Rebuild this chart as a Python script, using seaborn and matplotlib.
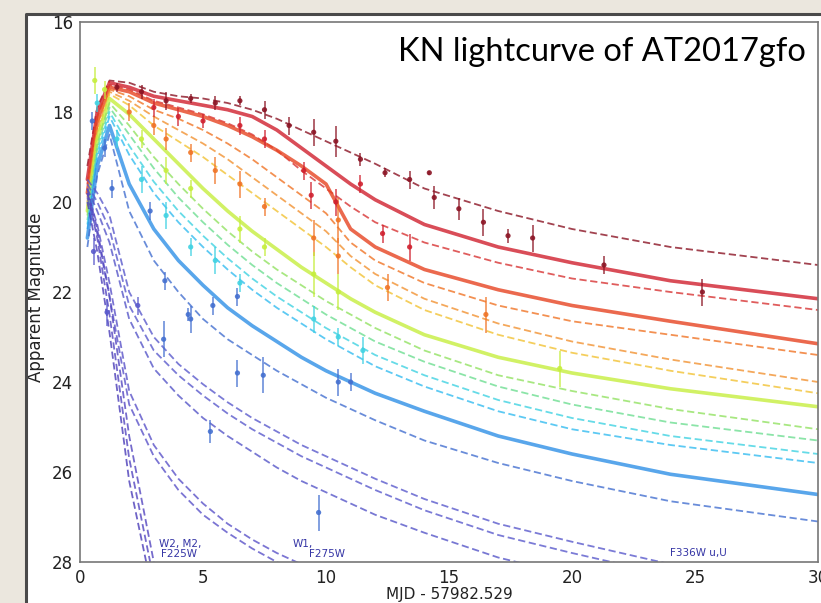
import numpy as np
import pandas as pd
import seaborn as sns
import matplotlib
matplotlib.use('Agg')
from matplotlib import pyplot as plt
from matplotlib.patches import Rectangle
from matplotlib.lines import Line2D

sns.set_style('white')

# model epochs (days since MJD 57982.529)
days = [0.3, 0.7, 1.2, 2, 3, 4, 5, 6, 7, 8, 9, 10, 11, 12, 14, 17, 20, 24, 30]

# model lightcurves, reddest band first
mag_a = [19.2, 17.9, 17.3, 17.35, 17.55, 17.65, 17.7, 17.8, 17.95, 18.15, 18.4, 18.65, 18.9, 19.15, 19.7, 20.2, 20.6, 21.0, 21.4]
mag_b = [19.5, 18.0, 17.35, 17.45, 17.65, 17.75, 17.85, 17.95, 18.1, 18.4, 18.8, 19.2, 19.6, 19.95, 20.5, 21.0, 21.35, 21.75, 22.15]
mag_c = [19.6, 18.1, 17.4, 17.5, 17.75, 17.9, 18.05, 18.25, 18.5, 18.85, 19.3, 19.7, 20.1, 20.45, 20.9, 21.35, 21.7, 22.0, 22.4]
mag_d = [19.8, 18.2, 17.45, 17.55, 17.8, 17.95, 18.1, 18.3, 18.55, 18.85, 19.2, 19.6, 20.6, 21.0, 21.5, 21.95, 22.3, 22.65, 23.15]
mag_e = [19.9, 18.3, 17.5, 17.65, 17.95, 18.15, 18.4, 18.7, 19.05, 19.45, 19.85, 20.25, 20.9, 21.3, 21.8, 22.3, 22.65, 22.95, 23.4]
mag_f = [20.0, 18.4, 17.55, 17.75, 18.1, 18.4, 18.7, 19.05, 19.45, 19.85, 20.25, 20.65, 21.2, 21.6, 22.15, 22.7, 23.1, 23.5, 24.0]
mag_g = [20.1, 18.5, 17.6, 17.85, 18.3, 18.65, 19.0, 19.4, 19.8, 20.2, 20.6, 21.0, 21.45, 21.85, 22.4, 22.95, 23.35, 23.75, 24.25]
mag_h = [20.2, 18.6, 17.7, 18.05, 18.6, 19.15, 19.7, 20.2, 20.65, 21.05, 21.45, 21.8, 22.15, 22.45, 22.95, 23.45, 23.8, 24.15, 24.55]
mag_i = [20.3, 18.7, 17.8, 18.3, 19.0, 19.6, 20.15, 20.65, 21.1, 21.5, 21.85, 22.2, 22.5, 22.8, 23.3, 23.85, 24.2, 24.6, 25.05]
mag_j = [20.4, 18.8, 17.9, 18.5, 19.25, 19.9, 20.45, 20.95, 21.4, 21.8, 22.15, 22.5, 22.8, 23.1, 23.55, 24.1, 24.5, 24.9, 25.3]
mag_k = [20.5, 18.9, 18.0, 18.75, 19.55, 20.2, 20.75, 21.25, 21.7, 22.1, 22.45, 22.8, 23.1, 23.4, 23.85, 24.4, 24.8, 25.2, 25.6]
mag_l = [20.6, 19.0, 18.1, 18.95, 19.8, 20.45, 21.0, 21.5, 21.95, 22.35, 22.7, 23.05, 23.35, 23.65, 24.1, 24.65, 25.05, 25.4, 25.8]
mag_m = [20.8, 19.2, 18.3, 19.6, 20.6, 21.3, 21.85, 22.35, 22.75, 23.1, 23.45, 23.75, 24.0, 24.25, 24.65, 25.2, 25.6, 26.05, 26.5]
mag_n = [21.0, 19.4, 18.5, 20.2, 21.3, 22.0, 22.6, 23.05, 23.4, 23.75, 24.05, 24.35, 24.6, 24.85, 25.3, 25.8, 26.2, 26.65, 27.1]
mag_o1 = [19.5, 19.8, 20.3, 22.0, 23.0, 23.6, 24.05, 24.45, 24.8, 25.1, 25.4, 25.65, 25.9, 26.15, 26.6, 27.15, 27.55, 28.05]
mag_o2 = [19.6, 20.0, 20.6, 22.3, 23.3, 23.85, 24.3, 24.7, 25.05, 25.35, 25.65, 25.9, 26.15, 26.4, 26.85, 27.4, 27.8, 28.3]
mag_o3 = [19.7, 20.2, 20.9, 22.6, 23.7, 24.3, 24.8, 25.2, 25.55, 25.9, 26.2, 26.45, 26.7, 26.95, 27.35, 27.9, 28.3]
mag_p1 = [19.8, 20.5, 21.8, 24.2, 25.4, 26.15, 26.7, 27.15, 27.5, 27.8, 28.05, 28.3]
mag_p2 = [19.9, 20.7, 22.1, 24.5, 25.65, 26.4, 26.95, 27.35, 27.7, 28.0, 28.3]
mag_q1 = [19.7, 20.6, 22.1, 25.2, 28.0]
mag_q2 = [19.8, 20.8, 22.5, 25.7, 28.4]
mag_q3 = [20.0, 21.1, 22.9, 26.2, 28.8]

models = {'a': mag_a, 'b': mag_b, 'c': mag_c, 'd': mag_d, 'e': mag_e, 'f': mag_f,
          'g': mag_g, 'h': mag_h, 'i': mag_i, 'j': mag_j, 'k': mag_k, 'l': mag_l,
          'm': mag_m, 'n': mag_n, 'o1': mag_o1, 'o2': mag_o2, 'o3': mag_o3,
          'p1': mag_p1, 'p2': mag_p2, 'q1': mag_q1, 'q2': mag_q2, 'q3': mag_q3}

colors = {'a': '#8b1424', 'b': '#d0202e', 'c': '#d83434', 'd': '#e64422', 'e': '#f07426',
          'f': '#f29232', 'g': '#f2c234', 'h': '#c6ee3e', 'i': '#92e262', 'j': '#6ede92',
          'k': '#40d2e2', 'l': '#34bcf0', 'm': '#3090e6', 'n': '#4470d0', 'o1': '#5a5acc',
          'o2': '#5a5acc', 'o3': '#5656c8', 'p1': '#5a52c8', 'p2': '#5a52c8',
          'q1': '#5446c0', 'q2': '#5446c0', 'q3': '#4a3cb8'}
solid = ['b', 'd', 'h', 'm']

# observed photometry (day, mag, err, band)
obs_day = [1.5, 2.5, 3.5, 4.5, 5.5, 6.5, 7.5, 8.5, 9.5, 10.4, 11.4, 12.4, 13.4, 14.2, 14.4, 15.4, 16.4, 17.4, 18.4, 21.3, 25.3,
           3.0, 4.0, 5.0, 6.5, 7.5, 9.1, 9.4, 10.4, 11.4, 12.3, 13.4,
           2.0, 3.0, 3.5, 4.5, 5.5, 6.5, 7.5, 9.5, 10.5, 10.5, 12.5, 16.5,
           0.6, 1.0, 2.5, 3.5, 4.5, 6.5, 7.5, 9.5, 10.5, 19.5,
           0.7, 1.5, 2.5, 3.5, 4.5, 5.5, 6.5, 9.5, 10.5, 11.5,
           0.5, 1.0, 1.3, 2.85, 3.45, 4.4, 5.4, 6.4, 3.4, 4.5, 6.4, 7.45, 9.7, 5.3, 10.5, 11.0,
           0.55, 1.1, 2.35]
obs_mag = [17.45, 17.55, 17.75, 17.7, 17.8, 17.75, 17.95, 18.3, 18.45, 18.65, 19.05, 19.35, 19.5, 19.35, 19.9, 20.15, 20.45, 20.75, 20.8, 21.4, 22.0,
           17.9, 18.1, 18.2, 18.3, 18.6, 19.3, 19.85, 20.0, 19.6, 20.7, 21.0,
           18.0, 18.3, 18.6, 18.9, 19.3, 19.6, 20.1, 20.8, 20.4, 21.2, 21.9, 22.5,
           17.3, 17.5, 18.6, 19.3, 19.7, 20.6, 21.0, 21.6, 22.0, 23.7,
           17.8, 18.6, 19.5, 20.3, 21.0, 21.3, 21.8, 22.6, 23.0, 23.3,
           18.2, 18.8, 19.7, 20.2, 21.75, 22.5, 22.3, 22.1, 23.05, 22.6, 23.8, 23.85, 26.9, 25.1, 24.0, 24.0,
           21.1, 22.45, 22.3]
obs_err = [0.1, 0.15, 0.2, 0.1, 0.15, 0.1, 0.2, 0.2, 0.3, 0.35, 0.15, 0.1, 0.2, 0.05, 0.25, 0.25, 0.3, 0.15, 0.3, 0.2, 0.3,
           0.2, 0.2, 0.15, 0.2, 0.2, 0.2, 0.3, 0.3, 0.2, 0.2, 0.3,
           0.2, 0.2, 0.25, 0.2, 0.3, 0.3, 0.2, 0.4, 0.5, 0.4, 0.3, 0.4,
           0.3, 0.2, 0.2, 0.3, 0.2, 0.3, 0.2, 0.5, 0.4, 0.4,
           0.2, 0.2, 0.3, 0.3, 0.2, 0.3, 0.2, 0.3, 0.2, 0.3,
           0.2, 0.2, 0.2, 0.2, 0.2, 0.15, 0.2, 0.2, 0.4, 0.3, 0.3, 0.4, 0.4, 0.25, 0.3, 0.2,
           0.3, 0.3, 0.2]
obs_band = ['a'] * 21 + ['b'] * 11 + ['e'] * 12 + ['h'] * 10 + ['k'] * 10 + ['n'] * 16 + ['o1'] * 3

rows = []
for band, mags in models.items():
    for t, m in zip(days, mags):
        rows.append({'day': t, 'mag': m, 'band': band})
model_df = pd.DataFrame(rows)
obs_df = pd.DataFrame({'day': obs_day, 'mag': obs_mag, 'err': obs_err, 'band': obs_band})

dashes = {b: '' if b in solid else (4, 2) for b in models}
widths = {b: 2.6 if b in solid else 1.3 for b in models}

fig = plt.figure(figsize=(8.21, 6.03), dpi=100)
fig.patch.set_facecolor('#ebe7de')
ax = fig.add_axes([80 / 821, 1 - 562 / 603, 738 / 821, 540 / 603])

sns.lineplot(data=model_df, x='day', y='mag', hue='band', style='band', size='band',
             palette=colors, dashes=dashes, sizes=widths, sort=False, estimator=None,
             alpha=0.8, legend=False, ax=ax)

for band, grp in obs_df.groupby('band'):
    ax.errorbar(grp['day'], grp['mag'], yerr=grp['err'], fmt='none',
                ecolor=colors[band], elinewidth=1.1, capsize=0, alpha=0.85)
sns.scatterplot(data=obs_df, x='day', y='mag', hue='band', palette=colors,
                s=14, edgecolor='none', alpha=0.9, legend=False, ax=ax, zorder=3)

ax.set_xlim(0, 30)
ax.set_ylim(28, 16)
ax.set_xticks([0, 5, 10, 15, 20, 25, 30])
ax.set_yticks([16, 18, 20, 22, 24, 26, 28])
ax.tick_params(direction='in', length=4, labelsize=12, labelcolor='#222222', pad=5)
for sp in ax.spines.values():
    sp.set_color('#777777')
    sp.set_linewidth(1.2)

ax.set_xlabel('MJD - 57982.529', fontsize=11, color='#222222')
ax.set_ylabel('Apparent Magnitude', fontsize=12, color='#222222')
ax.xaxis.set_label_coords(0.5, -0.046)
ax.yaxis.set_label_coords(-0.048, 0.49)

ax.text(0.984, 0.972, 'KN lightcurve of AT2017gfo', transform=ax.transAxes,
        ha='right', va='top', fontsize=23.5, family=['Lato', 'DejaVu Sans'], color='black')

ax.text(3.2, 27.72, 'W2, M2,', fontsize=7.5, color='#3535a5', ha='left', va='bottom')
ax.text(3.3, 27.72, 'F225W', fontsize=7.5, color='#3535a5', ha='left', va='top')
ax.text(8.65, 27.72, 'W1,', fontsize=7.5, color='#3535a5', ha='left', va='bottom')
ax.text(9.3, 27.72, 'F275W', fontsize=7.5, color='#3535a5', ha='left', va='top')
ax.text(24.0, 27.92, 'F336W u,U', fontsize=7.5, color='#3535a5', ha='left', va='bottom')

# screenshot frame
fig.patches.append(Rectangle((0, 1 - 13 / 603), 1, 13 / 603, transform=fig.transFigure,
                             facecolor='#ebe7de', edgecolor='none', zorder=5))
fig.patches.append(Rectangle((0, 0), 25 / 821, 1, transform=fig.transFigure,
                             facecolor='#ebe7de', edgecolor='none', zorder=5))
fig.patches.append(Rectangle((25 / 821, 0), 796 / 821, 1 - 14 / 603, transform=fig.transFigure,
                             facecolor='white', edgecolor='none', zorder=-1))
fig.lines.append(Line2D([26 / 821, 26 / 821, 1], [0, 1 - 14 / 603, 1 - 14 / 603],
                        transform=fig.transFigure, color='#4a4a4a', lw=2.2, zorder=6))

fig.savefig('out.png', dpi=100, facecolor=fig.get_facecolor())
